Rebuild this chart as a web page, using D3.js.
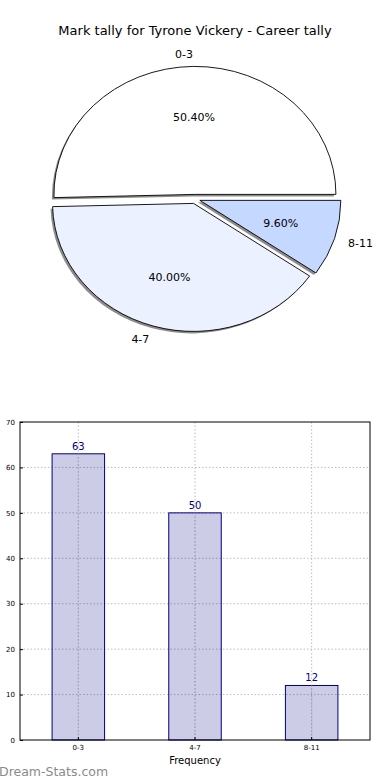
<!DOCTYPE html>
<html>
<head>
<meta charset="utf-8">
<script src="https://cdn.jsdelivr.net/npm/d3@7"></script>
<style>
  body { margin: 0; background: #fff; }
  svg { display: block; font-family: 'DejaVu Sans', sans-serif; }
</style>
</head>
<body>
<div id="chart"></div>
<script>
// chart data
const categories = ['0-3', '4-7', '8-11'];
const counts = [63, 50, 12];
const sliceColors = ['#ffffff', '#ebf1ff', '#c5d8ff'];
const yTicks = [0, 10, 20, 30, 40, 50, 60, 70];
const title = 'Mark tally for Tyrone Vickery - Career tally';

const width = 390;
const height = 780;

const svg = d3.select('#chart')
    .append('svg')
    .attr('width', width)
    .attr('height', height);

svg.append('text')
    .attr('x', 195)
    .attr('y', 35)
    .attr('text-anchor', 'middle')
    .style('font-size', '13px')
    .text(title);

// ---- pie (matplotlib style: starts east, goes counter-clockwise, exploded, shadow)
const cx = 195, cy = 199;
const rx = 141, ry = 128;
const explode = 0.036;
const total = d3.sum(counts);

const pie = d3.pie().sort(null)
    .startAngle(Math.PI / 2)
    .endAngle(Math.PI / 2 - 2 * Math.PI);
const arcs = pie(counts);
const arc = d3.arc().innerRadius(0).outerRadius(ry);

const pieG = svg.append('g');

function offsetFor(d, k) {
    const mid = (d.startAngle + d.endAngle) / 2;
    return [k * rx * Math.sin(mid), -k * ry * Math.cos(mid)];
}

// shadows first
arcs.forEach(d => {
    const [dx, dy] = offsetFor(d, explode);
    pieG.append('path')
        .attr('d', arc(d))
        .attr('transform', `translate(${cx + dx - 2},${cy + dy + 2}) scale(${rx / ry},1)`)
        .attr('fill', '#000')
        .attr('fill-opacity', 0.45);
});

arcs.forEach((d, i) => {
    const [dx, dy] = offsetFor(d, explode);
    pieG.append('path')
        .attr('d', arc(d))
        .attr('transform', `translate(${cx + dx},${cy + dy}) scale(${rx / ry},1)`)
        .attr('fill', sliceColors[i])
        .attr('stroke', '#000')
        .attr('stroke-width', 0.9)
        .attr('vector-effect', 'non-scaling-stroke');
});

// labels
arcs.forEach((d, i) => {
    const mid = (d.startAngle + d.endAngle) / 2;
    const [dx, dy] = offsetFor(d, explode);
    const sx = Math.sin(mid), sy = -Math.cos(mid);
    pieG.append('text')
        .attr('x', cx + dx + 1.1 * rx * sx)
        .attr('y', cy + dy + 1.1 * ry * sy + 1)
        .attr('dy', '0.35em')
        .attr('text-anchor', sx > 0 ? 'start' : 'end')
        .style('font-size', '11px')
        .text(categories[i]);
    pieG.append('text')
        .attr('x', cx + dx + 0.6 * rx * sx)
        .attr('y', cy + dy + 0.6 * ry * sy)
        .attr('dy', '0.35em')
        .attr('text-anchor', 'middle')
        .style('font-size', '11px')
        .text((counts[i] / total * 100).toFixed(2) + '%');
});

// ---- bar chart
const m = { left: 20, right: 370, top: 422, bottom: 740 };

const x = d3.scaleBand()
    .domain(categories)
    .range([m.left, m.right])
    .paddingInner(0.55)
    .paddingOuter(0.275);

const y = d3.scaleLinear()
    .domain([0, 70])
    .range([m.bottom, m.top]);

const barG = svg.append('g');

// grid
barG.selectAll('.hgrid')
    .data(yTicks.slice(1, -1))
    .enter().append('line')
    .attr('x1', m.left).attr('x2', m.right)
    .attr('y1', d => y(d)).attr('y2', d => y(d))
    .attr('stroke', '#bdbdbd')
    .attr('stroke-dasharray', '1.5,2');

barG.selectAll('.vgrid')
    .data(categories)
    .enter().append('line')
    .attr('x1', d => x(d) + x.bandwidth() / 2)
    .attr('x2', d => x(d) + x.bandwidth() / 2)
    .attr('y1', m.top).attr('y2', m.bottom)
    .attr('stroke', '#bdbdbd')
    .attr('stroke-dasharray', '1.5,2');

// bars
barG.selectAll('.bar')
    .data(counts)
    .enter().append('rect')
    .attr('x', (d, i) => x(categories[i]))
    .attr('y', d => y(d))
    .attr('width', x.bandwidth())
    .attr('height', d => y(0) - y(d))
    .attr('fill', 'rgba(0,0,128,0.2)')
    .attr('stroke', 'navy')
    .attr('stroke-width', 1);

// grid shows through the bars
barG.selectAll('.vgrid2')
    .data(categories)
    .enter().append('line')
    .attr('x1', d => x(d) + x.bandwidth() / 2)
    .attr('x2', d => x(d) + x.bandwidth() / 2)
    .attr('y1', d => y(counts[categories.indexOf(d)]))
    .attr('y2', m.bottom)
    .attr('stroke', '#a8a8b8')
    .attr('stroke-dasharray', '1.5,2');

barG.selectAll('.val')
    .data(counts)
    .enter().append('text')
    .attr('x', (d, i) => x(categories[i]) + x.bandwidth() / 2)
    .attr('y', d => y(d) - 4)
    .attr('text-anchor', 'middle')
    .attr('fill', 'navy')
    .style('font-size', '10px')
    .text(d => d);

// frame
barG.append('rect')
    .attr('x', m.left).attr('y', m.top)
    .attr('width', m.right - m.left)
    .attr('height', m.bottom - m.top)
    .attr('fill', 'none')
    .attr('stroke', '#000')
    .attr('stroke-width', 1);

// axes
const yAxis = d3.axisLeft(y).tickValues(yTicks).tickSize(-3).tickPadding(5);
barG.append('g')
    .attr('transform', `translate(${m.left},0)`)
    .call(yAxis)
    .call(g => g.select('.domain').remove())
    .call(g => g.selectAll('text').style('font-size', '7px').style('font-family', 'DejaVu Sans'));

const xAxis = d3.axisBottom(x).tickSize(-3).tickPadding(5);
barG.append('g')
    .attr('transform', `translate(0,${m.bottom})`)
    .call(xAxis)
    .call(g => g.select('.domain').remove())
    .call(g => g.selectAll('text').style('font-size', '7px').style('font-family', 'DejaVu Sans'));

svg.append('text')
    .attr('x', 195)
    .attr('y', 764)
    .attr('text-anchor', 'middle')
    .style('font-size', '10px')
    .text('Frequency');

// watermark
svg.append('text')
    .attr('x', -1)
    .attr('y', 776)
    .attr('fill', '#8a8a8a')
    .style('font-size', '12.5px')
    .text('Dream-Stats.com');
</script>
</body>
</html>
